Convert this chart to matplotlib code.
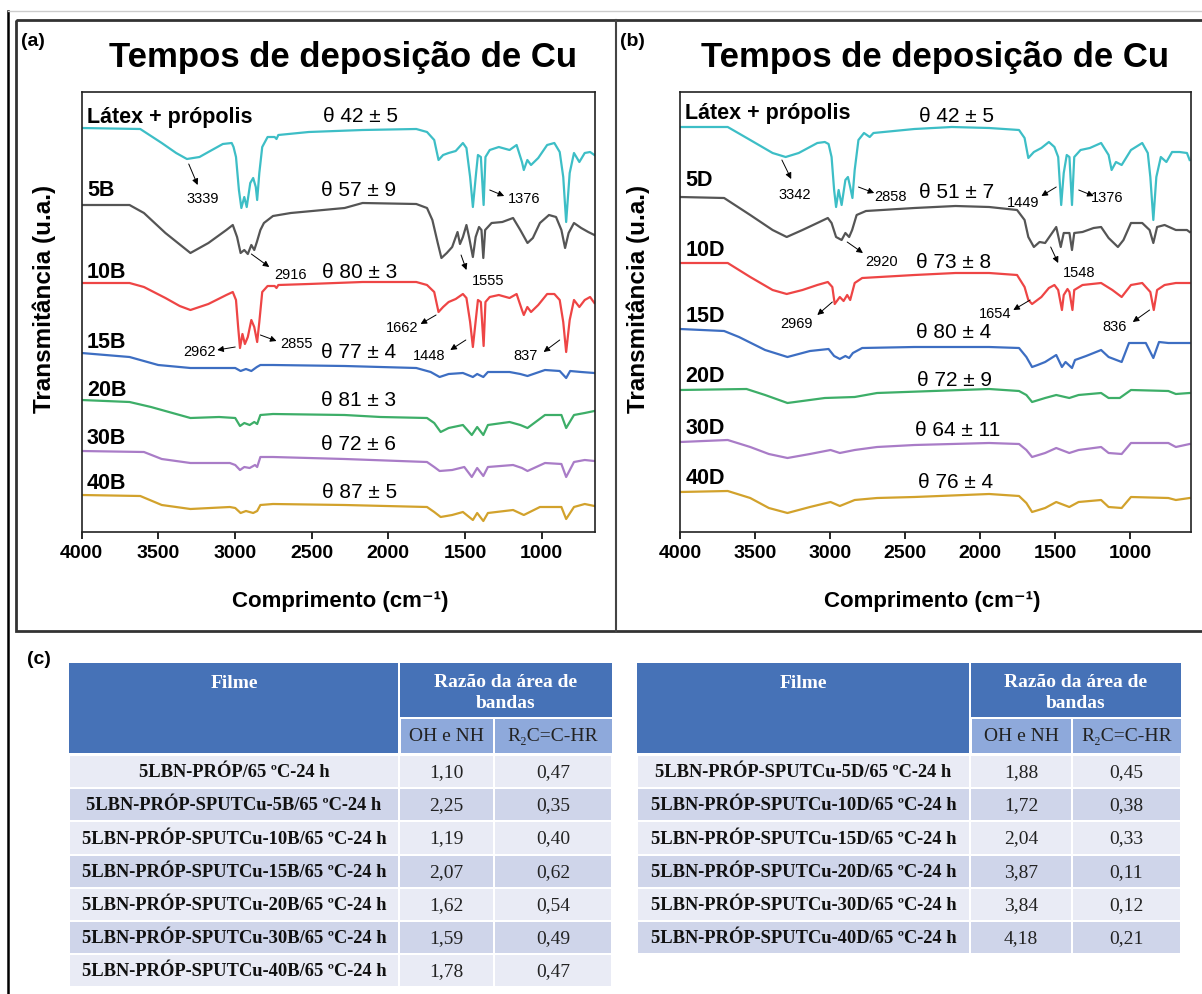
import matplotlib
matplotlib.use('Agg')
import matplotlib.pyplot as plt
from matplotlib.patches import Rectangle

W, H = 1202, 994
SANS = ['Liberation Sans', 'DejaVu Sans']
SERIF = ['Liberation Serif', 'DejaVu Serif']
plt.rcParams['font.family'] = SANS

# ---------------- data: panel (a) ----------------
a_names = ['Látex + própolis', '5B', '10B', '15B', '20B', '30B', '40B']
a_angles = ['θ 42 ± 5', 'θ 57 ± 9', 'θ 80 ± 3', 'θ 77 ± 4', 'θ 81 ± 3', 'θ 72 ± 6', 'θ 87 ± 5']

a_latex_wn = [4000, 3617, 3477, 3383, 3313, 3231, 3173, 3079, 3021, 3009, 2993, 2974, 2958, 2939, 2923, 2900, 2881, 2864, 2855, 2841, 2822, 2787, 2741, 2729, 2717, 2519, 2168, 1818, 1748, 1701, 1673, 1643, 1607, 1561, 1514, 1491, 1467, 1449, 1428, 1416, 1397, 1379, 1367, 1339, 1280, 1210, 1164, 1129, 1117, 1094, 1070, 1023, 965, 918, 883, 860, 841, 818, 790, 755, 720, 685, 657]
a_latex_t = [404, 403, 389, 379, 373, 375, 380, 388, 389, 385, 375, 342, 324, 335, 325, 349, 354, 345, 332, 359, 385, 395, 395, 393, 397, 400, 402, 403, 400, 392, 372, 377, 379, 381, 389, 384, 355, 325, 359, 377, 375, 327, 375, 382, 385, 382, 387, 370, 362, 372, 367, 374, 387, 389, 380, 355, 310, 359, 379, 370, 379, 380, 377]

a_5b_wn = [4000, 3687, 3593, 3453, 3290, 3173, 3056, 3014, 2986, 2963, 2939, 2916, 2893, 2874, 2857, 2834, 2811, 2752, 2636, 2285, 2168, 1818, 1748, 1713, 1678, 1654, 1619, 1584, 1549, 1533, 1514, 1491, 1474, 1449, 1431, 1409, 1393, 1381, 1369, 1327, 1257, 1187, 1140, 1093, 1058, 1012, 953, 907, 872, 848, 825, 790, 743, 697, 657]
a_5b_t = [327, 327, 319, 299, 279, 289, 302, 307, 295, 279, 282, 278, 287, 282, 290, 302, 309, 316, 319, 324, 329, 328, 324, 312, 289, 274, 279, 285, 300, 288, 295, 307, 295, 275, 295, 305, 302, 274, 302, 309, 310, 314, 302, 289, 294, 309, 317, 315, 302, 284, 299, 309, 304, 300, 297]

a_10b_wn = [4000, 3687, 3593, 3453, 3360, 3290, 3173, 3056, 3014, 2993, 2979, 2967, 2951, 2935, 2916, 2893, 2874, 2855, 2841, 2822, 2787, 2741, 2729, 2717, 2519, 2168, 1818, 1748, 1701, 1673, 1643, 1607, 1561, 1514, 1491, 1467, 1449, 1428, 1416, 1397, 1379, 1367, 1339, 1280, 1210, 1164, 1129, 1117, 1094, 1070, 1023, 965, 918, 883, 860, 841, 818, 790, 755, 720, 685, 657]
a_10b_t = [249, 249, 245, 234, 226, 222, 228, 237, 240, 232, 205, 184, 198, 188, 195, 212, 205, 190, 210, 240, 246, 246, 244, 247, 248, 250, 250, 247, 240, 220, 225, 230, 233, 238, 234, 210, 185, 215, 232, 230, 186, 230, 235, 237, 234, 238, 222, 217, 225, 220, 227, 238, 238, 232, 210, 180, 212, 232, 225, 232, 235, 229]

a_15b_wn = [4000, 3687, 3500, 3290, 3103, 2998, 2963, 2928, 2893, 2857, 2834, 2752, 2285, 1818, 1724, 1666, 1607, 1514, 1449, 1421, 1381, 1351, 1210, 1140, 1093, 979, 883, 841, 815, 743, 657]
a_15b_t = [179, 175, 167, 164, 164, 164, 161, 163, 161, 165, 167, 167, 166, 164, 160, 155, 158, 159, 155, 158, 155, 160, 160, 158, 156, 162, 161, 154, 161, 160, 159]

a_20b_wn = [4000, 3687, 3547, 3290, 3103, 2998, 2967, 2939, 2904, 2874, 2855, 2834, 2752, 2285, 2051, 1748, 1701, 1659, 1607, 1514, 1456, 1421, 1381, 1351, 1210, 1140, 1093, 979, 872, 841, 790, 720, 657]
a_20b_t = [132, 130, 125, 114, 115, 114, 106, 109, 107, 110, 108, 117, 118, 117, 115, 114, 109, 100, 104, 107, 97, 105, 97, 107, 110, 107, 104, 117, 117, 104, 117, 119, 121]

a_30b_wn = [4000, 3593, 3477, 3290, 3033, 2998, 2967, 2939, 2904, 2869, 2855, 2834, 2752, 2285, 1748, 1701, 1666, 1584, 1505, 1456, 1421, 1381, 1351, 1187, 1129, 1093, 979, 872, 841, 790, 720, 657]
a_30b_t = [81, 80, 73, 69, 69, 67, 62, 65, 64, 67, 65, 75, 75, 73, 70, 65, 61, 62, 65, 55, 64, 56, 65, 67, 64, 61, 69, 68, 55, 70, 72, 71]

a_40b_wn = [4000, 3617, 3477, 3290, 3033, 2998, 2963, 2928, 2881, 2855, 2834, 2752, 2285, 1748, 1701, 1659, 1584, 1514, 1449, 1421, 1381, 1351, 1187, 1117, 1012, 872, 841, 790, 720, 657]
a_40b_t = [37, 36, 27, 23, 25, 24, 19, 21, 19, 21, 27, 28, 27, 25, 20, 15, 17, 20, 12, 19, 11, 19, 22, 17, 25, 25, 13, 25, 28, 26]

a_peaks = ['3339', '1376', '2916', '1555', '1662', '2962', '2855', '1448', '837']

# ---------------- data: panel (b) ----------------
b_names = ['Látex + própolis', '5D', '10D', '15D', '20D', '30D', '40D']
b_angles = ['θ 42 ± 5', 'θ 51 ± 7', 'θ 73 ± 8', 'θ 80 ± 4', 'θ 72 ± 9', 'θ 64 ± 11', 'θ 76 ± 4']

b_latex_wn = [4000, 3682, 3532, 3383, 3296, 3209, 3085, 3035, 3010, 2990, 2973, 2960, 2943, 2923, 2898, 2881, 2866, 2851, 2836, 2811, 2774, 2736, 2711, 2438, 2189, 1940, 1741, 1704, 1679, 1642, 1592, 1542, 1505, 1480, 1460, 1443, 1423, 1405, 1388, 1373, 1331, 1269, 1194, 1144, 1124, 1095, 1057, 995, 920, 883, 866, 846, 826, 796, 759, 721, 672, 622, 604]
b_latex_t = [405, 405, 392, 379, 375, 379, 389, 390, 388, 375, 342, 325, 342, 327, 352, 355, 345, 334, 362, 392, 399, 395, 399, 403, 405, 404, 402, 394, 374, 380, 384, 390, 385, 375, 327, 359, 377, 375, 327, 375, 382, 384, 389, 377, 362, 370, 367, 382, 389, 379, 355, 312, 355, 375, 370, 380, 380, 379, 372]

b_5d_wn = [4000, 3706, 3532, 3383, 3289, 3184, 3085, 3015, 2990, 2960, 2923, 2898, 2873, 2853, 2823, 2761, 2438, 2164, 1940, 1754, 1704, 1679, 1642, 1604, 1567, 1530, 1493, 1463, 1443, 1405, 1388, 1373, 1318, 1244, 1194, 1144, 1082, 1045, 995, 920, 871, 846, 821, 771, 696, 622, 604]
b_5d_t = [335, 334, 317, 302, 295, 302, 309, 314, 309, 295, 292, 299, 295, 302, 317, 321, 324, 326, 325, 322, 312, 295, 285, 290, 289, 297, 305, 285, 299, 299, 282, 299, 300, 304, 305, 294, 285, 292, 309, 309, 302, 289, 305, 307, 302, 302, 300]

b_10d_wn = [4000, 3682, 3532, 3383, 3289, 3184, 3085, 3015, 2985, 2969, 2935, 2910, 2886, 2866, 2836, 2786, 2438, 2164, 1940, 1754, 1704, 1679, 1654, 1592, 1542, 1505, 1480, 1455, 1443, 1418, 1405, 1385, 1373, 1318, 1194, 1119, 1057, 995, 920, 866, 843, 821, 771, 696, 604]
b_10d_t = [269, 269, 255, 242, 238, 242, 247, 250, 245, 228, 235, 231, 237, 232, 249, 254, 257, 259, 259, 257, 245, 232, 228, 235, 244, 247, 242, 222, 237, 243, 240, 222, 242, 247, 249, 242, 235, 247, 249, 240, 222, 242, 247, 249, 249]

b_15d_wn = [4000, 3706, 3607, 3433, 3284, 3134, 3010, 2973, 2935, 2898, 2873, 2848, 2786, 2438, 1940, 1741, 1692, 1654, 1617, 1567, 1493, 1455, 1431, 1388, 1368, 1294, 1194, 1144, 1057, 1008, 896, 846, 808, 746, 604]
b_15d_t = [203, 201, 195, 182, 175, 181, 183, 176, 173, 176, 174, 179, 184, 185, 185, 184, 175, 165, 167, 170, 177, 165, 170, 164, 172, 176, 182, 175, 170, 189, 189, 174, 190, 189, 189]

b_20d_wn = [4000, 3557, 3433, 3284, 3035, 2836, 2687, 1940, 1741, 1692, 1654, 1567, 1493, 1406, 1344, 1194, 1144, 1070, 995, 746, 696, 604]
b_20d_t = [142, 143, 137, 129, 134, 135, 139, 143, 141, 137, 130, 134, 137, 134, 137, 139, 134, 134, 142, 141, 138, 139]

b_30d_wn = [4000, 3682, 3532, 3408, 3284, 3134, 2997, 2935, 2836, 2687, 2438, 1940, 1741, 1692, 1654, 1567, 1493, 1406, 1344, 1194, 1144, 1057, 995, 746, 696, 604]
b_30d_t = [90, 92, 85, 78, 74, 78, 82, 79, 82, 85, 87, 89, 88, 82, 75, 79, 84, 79, 82, 85, 79, 78, 89, 89, 85, 88]

b_40d_wn = [4000, 3682, 3532, 3408, 3284, 3134, 2997, 2935, 2836, 2687, 2438, 1940, 1741, 1692, 1654, 1567, 1493, 1406, 1344, 1194, 1144, 1057, 995, 746, 696, 604]
b_40d_t = [40, 41, 34, 24, 19, 25, 30, 26, 32, 34, 35, 38, 36, 29, 20, 24, 30, 25, 30, 32, 25, 24, 35, 34, 32, 34]

b_peaks = ['3342', '2858', '1449', '1376', '2920', '1548', '2969', '1654', '836']

x_ticks = [4000, 3500, 3000, 2500, 2000, 1500, 1000]

# ---------------- data: tables (c) ----------------
tab_head_film = 'Filme'
tab_head_ratio = 'Razão da área de\nbandas'
tab_sub = ['OH e NH', 'R₂C=C-HR']
left_films = ['5LBN-PRÓP/65 ºC-24 h', '5LBN-PRÓP-SPUTCu-5B/65 ºC-24 h', '5LBN-PRÓP-SPUTCu-10B/65 ºC-24 h',
              '5LBN-PRÓP-SPUTCu-15B/65 ºC-24 h', '5LBN-PRÓP-SPUTCu-20B/65 ºC-24 h',
              '5LBN-PRÓP-SPUTCu-30B/65 ºC-24 h', '5LBN-PRÓP-SPUTCu-40B/65 ºC-24 h']
left_oh = ['1,10', '2,25', '1,19', '2,07', '1,62', '1,59', '1,78']
left_r2c = ['0,47', '0,35', '0,40', '0,62', '0,54', '0,49', '0,47']
right_films = ['5LBN-PRÓP-SPUTCu-5D/65 ºC-24 h', '5LBN-PRÓP-SPUTCu-10D/65 ºC-24 h', '5LBN-PRÓP-SPUTCu-15D/65 ºC-24 h',
               '5LBN-PRÓP-SPUTCu-20D/65 ºC-24 h', '5LBN-PRÓP-SPUTCu-30D/65 ºC-24 h', '5LBN-PRÓP-SPUTCu-40D/65 ºC-24 h']
right_oh = ['1,88', '1,72', '2,04', '3,87', '3,84', '4,18']
right_r2c = ['0,45', '0,38', '0,33', '0,11', '0,12', '0,21']

colors = ['#3DBEC6', '#555555', '#EE4545', '#3D6EC2', '#3DAE68', '#A97CC7', '#D2A22C']

# ---------------- figure ----------------
fig = plt.figure(figsize=(W / 100, H / 100), dpi=100)
bg = fig.add_axes([0, 0, 1, 1])
bg.set_xlim(0, W)
bg.set_ylim(H, 0)
bg.axis('off')


def ax_rect(x0, x1, y0, y1):
    return [x0 / W, 1 - y1 / H, (x1 - x0) / W, (y1 - y0) / H]


# frames
bg.plot([8, 8], [11, H], color='black', lw=1.8)
bg.plot([8, W], [11, 11], color='#cccccc', lw=1.0)
bg.add_patch(Rectangle((16, 20), W - 14, 611, fill=False, ec='#333333', lw=2.0))
bg.plot([616, 616], [20, 631], color='#444444', lw=1.5)

panel_a = {'series': [(a_latex_wn, a_latex_t), (a_5b_wn, a_5b_t), (a_10b_wn, a_10b_t), (a_15b_wn, a_15b_t),
                      (a_20b_wn, a_20b_t), (a_30b_wn, a_30b_t), (a_40b_wn, a_40b_t)],
           'names': a_names, 'angles': a_angles,
           'name_T': [415, 342, 259, 190, 142, 93, 48],
           'angle_T': [415, 342, 259, 180, 131, 87, 39],
           'angle_wn': [2180, 2196, 2190, 2196, 2196, 2196, 2185],
           'peaks': a_peaks,
           'peak_pos': [(3208, 333, 3301, 368, 3243, 347), (1117, 333, 1339, 342, 1245, 336),
                        (2636, 257, 2893, 278, 2776, 265), (1350, 251, 1526, 277, 1491, 262),
                        (1911, 204, 1689, 217, 1790, 208), (3231, 180, 2998, 185, 3115, 182),
                        (2600, 188, 2834, 197, 2729, 191), (1731, 176, 1495, 192, 1596, 182),
                        (1105, 176, 883, 192, 988, 180)],
           'rect': (81.5, 595, 92, 532), 'xlim': (4000, 653),
           'tag': '(a)', 'tag_x': 21, 'cx': 343, 'ylab_x': 44}

panel_b = {'series': [(b_latex_wn, b_latex_t), (b_5d_wn, b_5d_t), (b_10d_wn, b_10d_t), (b_15d_wn, b_15d_t),
                      (b_20d_wn, b_20d_t), (b_30d_wn, b_30d_t), (b_40d_wn, b_40d_t)],
           'names': b_names, 'angles': b_angles,
           'name_T': [419, 352, 281, 216, 156, 104, 54],
           'angle_T': [416, 339, 270, 199, 152, 101, 50],
           'angle_wn': [2159, 2159, 2177, 2177, 2172, 2150, 2165],
           'peaks': b_peaks,
           'peak_pos': [(3234, 337, 3321, 372, 3259, 353), (2600, 335, 2811, 345, 2706, 339),
                        (1716, 329, 1493, 345, 1592, 336), (1157, 334, 1343, 342, 1244, 336),
                        (2654, 270, 2886, 290, 2781, 279), (1343, 259, 1530, 285, 1480, 269),
                        (3221, 208, 2985, 230, 3085, 217), (1903, 218, 1667, 232, 1779, 222),
                        (1107, 205, 871, 222, 983, 210)],
           'rect': (680, 1191, 92, 532), 'xlim': (4000, 595),
           'tag': '(b)', 'tag_x': 620, 'cx': 935, 'ylab_x': 638}

for P in (panel_a, panel_b):
    x0, x1, y0, y1 = P['rect']
    ax = fig.add_axes(ax_rect(x0, x1, y0, y1))
    ax.set_xlim(*P['xlim'])
    ax.set_ylim(0, 440)
    for (wn, t), c in zip(P['series'], colors):
        ax.plot(wn, t, color=c, lw=1.6, solid_joinstyle='round')
    ax.set_yticks([])
    ax.set_xticks(x_ticks)
    ax.set_xticklabels([str(v) for v in x_ticks], fontsize=14, fontweight='bold')
    ax.tick_params(axis='x', direction='out', length=5, width=1.2, pad=4)
    for s in ax.spines.values():
        s.set_linewidth(1.2)
        s.set_color('#222222')
    for name, ty in zip(P['names'], P['name_T']):
        ax.text(3965, ty, name, fontsize=15.5, fontweight='bold', va='center', ha='left')
    for ang, tw, ty in zip(P['angles'], P['angle_wn'], P['angle_T']):
        ax.text(tw, ty, ang, fontsize=15, va='center', ha='center')
    for lab, (lx, ly, tx, ty, hx, hy) in zip(P['peaks'], P['peak_pos']):
        ax.text(lx, ly, lab, fontsize=10.5, va='center', ha='center')
        ax.annotate('', xy=(hx, hy), xytext=(tx, ty),
                    arrowprops=dict(arrowstyle='-|>', color='black', lw=0.7, mutation_scale=9,
                                    shrinkA=0, shrinkB=0))
    bg.text(P['tag_x'], 42, P['tag'], fontsize=14, fontweight='bold', va='center', ha='left')
    bg.text(P['cx'], 57, 'Tempos de deposição de Cu', fontsize=25, fontweight='bold', va='center', ha='center')
    bg.text(P['cx'] - 3, 601, 'Comprimento (cm⁻¹)', fontsize=16, fontweight='bold', va='center', ha='center')
    bg.text(P['ylab_x'], 299, 'Transmitância (u.a.)', fontsize=17.5, fontweight='bold', rotation=90,
            va='center', ha='center')

# ---------------- tables ----------------
bg.text(27, 660, '(c)', fontsize=14, fontweight='bold', va='center', ha='left')
DARK, SUB, LIGHT, MID = '#4672B7', '#8EA9DB', '#E9EBF5', '#CFD5EA'


def draw_table(cols, films, oh, r2c):
    top, h1, h2, rh = 663, 55, 35, 33.2
    gap = 1.0
    bg.add_patch(Rectangle((cols[0], top), cols[1] - cols[0] - gap, h1 + h2, fc=DARK, ec='none'))
    bg.add_patch(Rectangle((cols[1] + gap, top), cols[3] - cols[1] - gap, h1 - gap, fc=DARK, ec='none'))
    bg.add_patch(Rectangle((cols[1] + 2 * gap, top + h1 + gap), cols[2] - cols[1] - 3 * gap, h2 - gap, fc=SUB, ec='none'))
    bg.add_patch(Rectangle((cols[2] + gap, top + h1 + gap), cols[3] - cols[2] - gap, h2 - gap, fc=SUB, ec='none'))
    bg.text((cols[0] + cols[1]) / 2, top + 20, tab_head_film, family=SERIF, fontsize=14, fontweight='bold',
            color='white', va='center', ha='center')
    bg.text((cols[1] + cols[3]) / 2, top + 30, tab_head_ratio, family=SERIF, fontsize=14, fontweight='bold',
            color='white', va='center', ha='center', linespacing=1.3)
    bg.text((cols[1] + cols[2]) / 2, top + h1 + h2 / 2 + 1, tab_sub[0], family=SERIF, fontsize=14,
            color='#222222', va='center', ha='center')
    bg.text((cols[2] + cols[3]) / 2, top + h1 + h2 / 2 + 1, tab_sub[1], family=SERIF, fontsize=14,
            color='#222222', va='center', ha='center')
    y = top + h1 + h2 + 2
    for i, (f, a, b) in enumerate(zip(films, oh, r2c)):
        fc = LIGHT if i % 2 == 0 else MID
        for c0, c1 in zip(cols[:-1], cols[1:]):
            bg.add_patch(Rectangle((c0 + gap, y + gap), c1 - c0 - 2 * gap, rh - 2 * gap, fc=fc, ec='none'))
        yc = y + rh / 2 + 1
        bg.text((cols[0] + cols[1]) / 2, yc, f, family=SERIF, fontsize=13.3, fontweight='bold',
                color='#111111', va='center', ha='center')
        bg.text((cols[1] + cols[2]) / 2, yc, a, family=SERIF, fontsize=14, color='#222222', va='center', ha='center')
        bg.text((cols[2] + cols[3]) / 2, yc, b, family=SERIF, fontsize=14, color='#222222', va='center', ha='center')
        y += rh


draw_table([69, 399, 494, 612], left_films, left_oh, left_r2c)
draw_table([637, 970, 1072, 1181], right_films, right_oh, right_r2c)

fig.savefig('out.png', dpi=100)
